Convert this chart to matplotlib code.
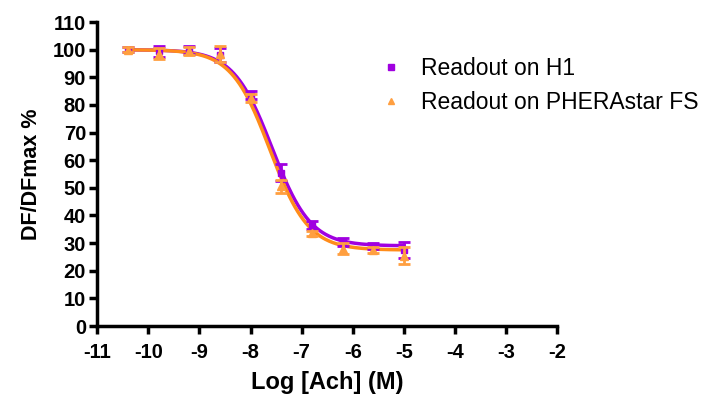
import numpy as np
import matplotlib
matplotlib.use("Agg")
import matplotlib.pyplot as plt

plt.rcParams["font.family"] = ["Liberation Sans", "DejaVu Sans"]
plt.rcParams["axes.unicode_minus"] = False

# log concentration of Ach (M)
log_conc = [-10.4, -9.8, -9.2, -8.6, -8.0, -7.4, -6.8, -6.2, -5.6, -5.0]

# Readout on H1
h1_mean = [100.0, 99.5, 100.0, 98.0, 83.5, 55.5, 36.5, 30.5, 29.0, 27.5]
h1_err = [1.0, 2.0, 1.5, 2.5, 1.5, 3.0, 1.5, 1.5, 1.0, 3.0]
# Readout on PHERAstar FS
ph_mean = [100.0, 98.5, 99.5, 98.5, 82.5, 50.5, 33.5, 28.0, 27.5, 25.5]
ph_err = [1.0, 2.0, 1.5, 3.0, 1.5, 2.5, 1.0, 2.0, 1.0, 3.0]

# 4PL fit parameters: top, bottom, logEC50, hill
h1_fit = [100.0, 29.0, -7.58, 1.15]
ph_fit = [100.0, 27.5, -7.62, 1.15]

purple = "#A000E0"
orange = "#FF8C1A"


def fourpl(x, p):
    top, bottom, logec50, hill = p
    return bottom + (top - bottom) / (1 + 10 ** ((x - logec50) * hill))


fig = plt.figure(figsize=(7.2, 4.01), dpi=100)
ax = fig.add_axes([0.135, 0.187, 0.639, 0.758])

xs = np.linspace(min(log_conc), max(log_conc), 300)
ax.plot(xs, fourpl(xs, h1_fit), color=purple, lw=2.5, zorder=2)
ax.plot(xs, fourpl(xs, ph_fit), color=orange, lw=2.5, zorder=3)

ax.errorbar(log_conc, h1_mean, yerr=h1_err, fmt="s", color=purple, ms=5,
            elinewidth=2, capsize=4, capthick=2, zorder=4, label="Readout on H1")
ax.errorbar(log_conc, ph_mean, yerr=ph_err, fmt="^", color="#FF9F40", ms=6,
            elinewidth=2, capsize=4, capthick=2, zorder=5,
            label="Readout on PHERAstar FS")

ax.set_xlim(-11, -2)
ax.set_ylim(0, 110)
ax.set_xticks(range(-11, -1))
ax.set_yticks(range(0, 111, 10))
for s in ["top", "right"]:
    ax.spines[s].set_visible(False)
for s in ["left", "bottom"]:
    ax.spines[s].set_linewidth(2.5)
ax.tick_params(width=2.5, length=6, labelsize=14.5)
ax.tick_params(axis="x", pad=6)
ax.tick_params(axis="y", pad=2)
for lab in ax.get_xticklabels() + ax.get_yticklabels():
    lab.set_fontweight("bold")

ax.set_xlabel("Log [Ach] (M)", fontsize=17, fontweight="bold", labelpad=7)
ax.set_ylabel("DF/DFmax %", fontsize=15.5, fontweight="bold", labelpad=8)

handles, labels = ax.get_legend_handles_labels()
handles = [h[0] for h in handles]
fig.legend(handles, labels, loc="upper left", bbox_to_anchor=(0.505, 0.91),
           frameon=False, fontsize=16.5, handlelength=0.6, handletextpad=1.0,
           labelspacing=0.5, markerscale=0.8)

fig.savefig("out.png", dpi=100)
